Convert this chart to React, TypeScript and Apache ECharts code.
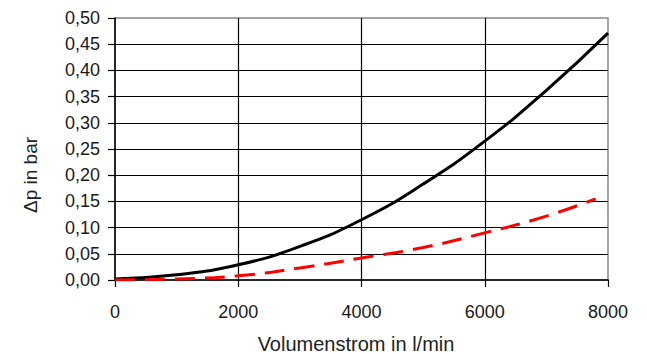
import React, { useEffect, useRef } from "react";
import * as echarts from "echarts";

const blackX = [0, 1000, 2000, 3000, 4000, 5000, 6000, 7000, 8000];
const blackY = [0.002, 0.01, 0.029, 0.064, 0.115, 0.183, 0.265, 0.362, 0.471];
const redX = [0, 1000, 2000, 3000, 4000, 5000, 6000, 7000, 7800];
const redY = [0, 0.002, 0.008, 0.023, 0.042, 0.062, 0.09, 0.122, 0.155];
const xTitle = "Volumenstrom in l/min";
const yTitle = "\u0394p in bar";

export default function App() {
  const ref = useRef<HTMLDivElement>(null);
  useEffect(() => {
    const chart = echarts.init(ref.current!, null, { renderer: "svg" });
    const font = "'Liberation Sans', Arial, sans-serif";
    chart.setOption({
      animation: false,
      textStyle: { fontFamily: font },
      grid: {
        left: 115, right: 39, top: 18, bottom: 74,
        show: true, borderColor: "#888", borderWidth: 1.5, backgroundColor: "transparent",
      },
      xAxis: {
        type: "value", min: 0, max: 8000, interval: 2000,
        axisLine: { show: true, lineStyle: { color: "#000", width: 1.5 } },
        axisTick: { show: true, inside: false, length: 7, lineStyle: { color: "#000", width: 1.2 } },
        axisLabel: {
          color: "#1a1a1a", fontSize: 18, margin: 23, fontFamily: font,
          formatter: (v: number) => String(v),
        },
        splitLine: { show: true, showMinLine: false, showMaxLine: false, lineStyle: { color: "#000", width: 1.2 } },
      },
      yAxis: {
        type: "value", min: 0, max: 0.5, interval: 0.05,
        axisLine: { show: true, lineStyle: { color: "#000", width: 1.5 } },
        axisTick: { show: true, inside: false, length: 7, lineStyle: { color: "#000", width: 1.2 } },
        axisLabel: {
          color: "#1a1a1a", fontSize: 18, margin: 15, fontFamily: font,
          formatter: (v: number) => v.toFixed(2).replace(".", ","),
        },
        splitLine: { show: true, showMinLine: false, showMaxLine: false, lineStyle: { color: "#000", width: 1.2 } },
      },
      graphic: [
        {
          type: "text", x: 356, y: 344,
          style: { text: xTitle, fill: "#222", font: `20px ${font}`, align: "center", verticalAlign: "middle" },
        },
        {
          type: "text", x: 30, y: 175, rotation: Math.PI / 2,
          style: { text: yTitle, fill: "#222", font: `19px ${font}`, align: "center", verticalAlign: "middle" },
        },
      ],
      series: [
        {
          type: "line", smooth: 0.5, symbol: "none",
          data: blackX.map((x, i) => [x, blackY[i]]),
          lineStyle: { color: "#000", width: 3 },
          z: 3,
        },
        {
          type: "line", smooth: 0.5, symbol: "none",
          data: redX.map((x, i) => [x, redY[i]]),
          lineStyle: { color: "#f00", width: 3, type: [20, 10] },
          z: 4,
        },
      ],
    });
    return () => chart.dispose();
  }, []);
  return <div ref={ref} style={{ width: 647, height: 354, position: "absolute", left: 0, top: 0 }} />;
}
